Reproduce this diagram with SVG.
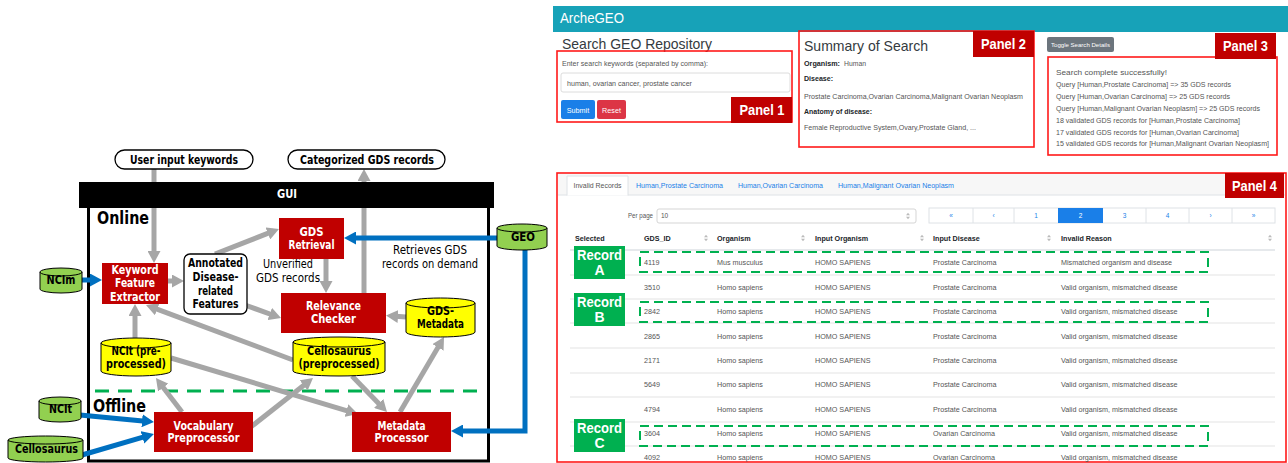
<svg xmlns="http://www.w3.org/2000/svg" xmlns:xlink="http://www.w3.org/1999/xlink" width="1288" height="463" viewBox="0 0 1288 463">
<style>
.lb{font-family:"DejaVu Sans","Liberation Sans",sans-serif;font-weight:bold;font-size:12px;text-anchor:middle}
.ln{font-family:"DejaVu Sans","Liberation Sans",sans-serif;font-size:12px;text-anchor:middle;fill:#000}
.w{fill:#fff}
.k{fill:#000}
.red{fill:#c00000}
.grn{fill:#92d050;stroke:#000;stroke-width:1}
.yel{fill:#ffff00;stroke:#000;stroke-width:1}
.arc{fill:none;stroke:#000;stroke-width:1}
.gray{stroke:#a6a6a6;stroke-width:5;fill:none;marker-end:url(#ag)}
.blue{stroke:#0070c0;stroke-width:5;fill:none;marker-end:url(#ab)}
.pill{fill:#fff;stroke:#000;stroke-width:1.3}
.s{font-family:"Liberation Sans",Arial,sans-serif;font-size:7.2px;fill:#555}
.h{font-weight:bold;fill:#212529}
.lk{fill:#1a7fe8}
.pl{font-family:"Liberation Sans",Arial,sans-serif;font-weight:bold;font-size:14px;fill:#fff;text-anchor:middle}
.pnl{fill:none;stroke:#ff1a1a;stroke-width:1.6}
.rl{stroke:#e3e3e3;stroke-width:1}
.gd{fill:none;stroke:#00b050;stroke-width:2;stroke-dasharray:9,5}
.rec{fill:#00b050}
.rt{font-family:"Liberation Sans",Arial,sans-serif;font-weight:bold;font-size:14px;fill:#fff;text-anchor:middle}
</style>
<defs>
<marker id="ag" markerUnits="userSpaceOnUse" markerWidth="13" markerHeight="13" refX="6" refY="6.5" orient="auto"><path d="M0,0 L12,6.5 L0,13 Z" fill="#a6a6a6"/></marker>
<marker id="ab" markerUnits="userSpaceOnUse" markerWidth="13" markerHeight="13" refX="6" refY="6.5" orient="auto"><path d="M0,0 L12,6.5 L0,13 Z" fill="#0070c0"/></marker>
<g id="sort"><path d="M-2,-0.7 L0,-3.3 L2,-0.7 Z M-2,0.7 L0,3.3 L2,0.7 Z" fill="#bbb"/></g>
</defs>

<!-- ===== Left: architecture diagram ===== -->
<g id="frame">
<rect x="88.5" y="200" width="400" height="261" fill="#fff" stroke="#000" stroke-width="3"/>
<line x1="95" y1="391" x2="486" y2="391" stroke="#00b050" stroke-width="3" stroke-dasharray="14,9"/>
<text x="97" y="224" font-family="DejaVu Sans,Liberation Sans,sans-serif" font-weight="bold" font-size="17" textLength="52" lengthAdjust="spacingAndGlyphs">Online</text>
<text x="93" y="412" font-family="DejaVu Sans,Liberation Sans,sans-serif" font-weight="bold" font-size="17" textLength="53" lengthAdjust="spacingAndGlyphs">Offline</text>
</g>

<g id="connectors">
<line class="gray" x1="154" y1="169" x2="154" y2="257"/>
<line class="gray" x1="364" y1="293" x2="364" y2="175"/>
<line class="gray" x1="168" y1="281" x2="178" y2="281"/>
<line class="gray" x1="215" y1="254" x2="273.4" y2="231.2"/>
<line class="gray" x1="245" y1="305" x2="275.4" y2="316"/>
<line class="gray" x1="326" y1="259" x2="326" y2="287"/>
<line class="gray" x1="406" y1="317" x2="392" y2="316"/>
<line class="gray" x1="135" y1="338" x2="135" y2="310"/>
<line class="gray" x1="293" y1="360" x2="151.6" y2="307.1"/>
<line class="gray" x1="171" y1="358" x2="352.2" y2="412.3"/>
<line class="gray" x1="182" y1="412" x2="159.6" y2="382.8"/>
<line class="gray" x1="247" y1="430" x2="308.3" y2="381.7"/>
<line class="gray" x1="352" y1="376" x2="382.8" y2="407.7"/>
<line class="gray" x1="400" y1="412" x2="441" y2="342.2"/>
<line class="blue" x1="82" y1="280" x2="96" y2="280"/>
<line class="blue" x1="497" y1="238" x2="350" y2="238"/>
<polyline class="blue" points="525,250 525,431 457,431"/>
<line class="blue" x1="80" y1="415" x2="148" y2="421.4"/>
<line class="blue" x1="82" y1="455" x2="148.2" y2="435.7"/>
<text class="ln" x="288" y="268.3" textLength="50" lengthAdjust="spacingAndGlyphs">Unverified</text>
<text class="ln" x="288" y="282.3" textLength="64" lengthAdjust="spacingAndGlyphs">GDS records</text>
<text class="ln" x="430" y="254.3" textLength="74" lengthAdjust="spacingAndGlyphs">Retrieves GDS</text>
<text class="ln" x="430" y="268.3" textLength="96" lengthAdjust="spacingAndGlyphs">records on demand</text>
</g>

<g id="gui">
<rect x="79" y="182" width="415" height="26" fill="#000"/>
<text class="lb w" x="287" y="198.3" textLength="20" lengthAdjust="spacingAndGlyphs">GUI</text>
</g>

<g id="user-input">
<rect class="pill" x="115" y="150" width="138" height="19" rx="9.5"/>
<text class="lb k" x="184" y="163.5" font-size="12.5" textLength="108" lengthAdjust="spacingAndGlyphs">User input keywords</text>
</g>
<g id="categorized">
<rect class="pill" x="288" y="150" width="157" height="19" rx="9.5"/>
<text class="lb k" x="367" y="163.5" font-size="12.5" textLength="134" lengthAdjust="spacingAndGlyphs">Categorized GDS records</text>
</g>

<g id="kfe">
<rect class="red" x="102" y="263" width="66" height="41"/>
<text class="lb w" x="135" y="274.3" textLength="47" lengthAdjust="spacingAndGlyphs">Keyword</text>
<text class="lb w" x="135" y="287.3" textLength="40" lengthAdjust="spacingAndGlyphs">Feature</text>
<text class="lb w" x="135" y="301.3" textLength="50" lengthAdjust="spacingAndGlyphs">Extractor</text>
</g>

<g id="annotated">
<rect x="184" y="254" width="63" height="60" rx="6" fill="#fff" stroke="#000" stroke-width="1.3"/>
<text class="lb k" x="215.5" y="267.3" textLength="55" lengthAdjust="spacingAndGlyphs">Annotated</text>
<text class="lb k" x="215.5" y="281.3" textLength="46" lengthAdjust="spacingAndGlyphs">Disease-</text>
<text class="lb k" x="215.5" y="295.3" textLength="35" lengthAdjust="spacingAndGlyphs">related</text>
<text class="lb k" x="215.5" y="308.3" textLength="46" lengthAdjust="spacingAndGlyphs">Features</text>
</g>

<g id="gds-retrieval">
<rect class="red" x="279" y="218" width="65" height="41"/>
<text class="lb w" x="311.5" y="236.3" textLength="24" lengthAdjust="spacingAndGlyphs">GDS</text>
<text class="lb w" x="311.5" y="249.3" textLength="46" lengthAdjust="spacingAndGlyphs">Retrieval</text>
</g>

<g id="relevance">
<rect class="red" x="281" y="293" width="105" height="40"/>
<text class="lb w" x="333.5" y="310.3" textLength="55" lengthAdjust="spacingAndGlyphs">Relevance</text>
<text class="lb w" x="333.5" y="323.3" textLength="45" lengthAdjust="spacingAndGlyphs">Checker</text>
</g>

<g id="gds-metadata">
<path class="yel" d="M406,303 A34.5,5 0 0 1 475,303 V332 A34.5,5 0 0 1 406,332 Z"/>
<path class="arc" d="M406,303 A34.5,5 0 0 0 475,303"/>
<text class="lb k" x="440.5" y="315.3" textLength="27" lengthAdjust="spacingAndGlyphs">GDS-</text>
<text class="lb k" x="440.5" y="328.3" textLength="47" lengthAdjust="spacingAndGlyphs">Metadata</text>
</g>

<g id="ncit-pre">
<path class="yel" d="M101,343 A35,5 0 0 1 171,343 V371 A35,5 0 0 1 101,371 Z"/>
<path class="arc" d="M101,343 A35,5 0 0 0 171,343"/>
<text class="lb k" x="136" y="355.3" textLength="49" lengthAdjust="spacingAndGlyphs">NCIt (pre-</text>
<text class="lb k" x="136" y="368.3" textLength="60" lengthAdjust="spacingAndGlyphs">processed)</text>
</g>

<g id="cello-pre">
<path class="yel" d="M293,342 A46,5 0 0 1 385,342 V371 A46,5 0 0 1 293,371 Z"/>
<path class="arc" d="M293,342 A46,5 0 0 0 385,342"/>
<text class="lb k" x="339" y="355.3" textLength="64" lengthAdjust="spacingAndGlyphs">Cellosaurus</text>
<text class="lb k" x="339" y="368.3" textLength="81" lengthAdjust="spacingAndGlyphs">(preprocessed)</text>
</g>

<g id="ncim">
<path class="grn" d="M40,272 A21,4 0 0 1 82,272 V289 A21,4 0 0 1 40,289 Z"/>
<path class="arc" d="M40,272 A21,4 0 0 0 82,272"/>
<text class="lb k" x="61" y="284.3" textLength="29" lengthAdjust="spacingAndGlyphs">NCIm</text>
</g>

<g id="geo">
<path class="grn" d="M497,228 A25,4 0 0 1 547,228 V246 A25,4 0 0 1 497,246 Z"/>
<path class="arc" d="M497,228 A25,4 0 0 0 547,228"/>
<text class="lb k" x="523" y="241.3" textLength="24" lengthAdjust="spacingAndGlyphs">GEO</text>
</g>

<g id="ncit">
<path class="grn" d="M39,401 A21,4 0 0 1 81,401 V418 A21,4 0 0 1 39,418 Z"/>
<path class="arc" d="M39,401 A21,4 0 0 0 81,401"/>
<text class="lb k" x="60.5" y="413.3" textLength="23" lengthAdjust="spacingAndGlyphs">NCIt</text>
</g>

<g id="cellosaurus">
<path class="grn" d="M8,440 A37.5,4 0 0 1 83,440 V458 A37.5,4 0 0 1 8,458 Z"/>
<path class="arc" d="M8,440 A37.5,4 0 0 0 83,440"/>
<text class="lb k" x="46.5" y="453.3" textLength="63" lengthAdjust="spacingAndGlyphs">Cellosaurus</text>
</g>

<g id="vocab">
<rect class="red" x="154" y="412" width="99" height="40"/>
<text class="lb w" x="203.5" y="430.3" textLength="60" lengthAdjust="spacingAndGlyphs">Vocabulary</text>
<text class="lb w" x="203.5" y="442.3" textLength="72" lengthAdjust="spacingAndGlyphs">Preprocessor</text>
</g>

<g id="metadata-proc">
<rect class="red" x="352" y="412" width="99" height="40"/>
<text class="lb w" x="401.5" y="430.3" textLength="48" lengthAdjust="spacingAndGlyphs">Metadata</text>
<text class="lb w" x="401.5" y="442.3" textLength="54" lengthAdjust="spacingAndGlyphs">Processor</text>
</g>

<!-- ===== Right: ArcheGEO screenshot ===== -->
<g id="header">
<rect x="553" y="6" width="735" height="26" fill="#17a2b8"/>
<text x="560" y="22.5" font-family="Liberation Sans,Arial,sans-serif" font-size="14.5" fill="#fff" textLength="64" lengthAdjust="spacingAndGlyphs">ArcheGEO</text>
</g>

<g id="panel1">
<text x="562" y="48.5" font-family="Liberation Sans,Arial,sans-serif" font-size="15" fill="#343a40" textLength="150" lengthAdjust="spacingAndGlyphs">Search GEO Repository</text>
<rect class="pnl" x="557" y="51" width="235" height="71"/>
<text class="s" x="562" y="65.6" textLength="146" lengthAdjust="spacingAndGlyphs">Enter search keywords (separated by comma):</text>
<rect x="561" y="73" width="229" height="19" rx="2" fill="#fff" stroke="#dcdcdc"/>
<text class="s" x="567" y="85.6" textLength="125" lengthAdjust="spacingAndGlyphs">human, ovarian cancer, prostate cancer</text>
<rect x="561" y="100" width="34" height="19" rx="2" fill="#1a7fe8"/>
<text class="s" x="578" y="112.6" fill="#fff" style="fill:#fff" text-anchor="middle">Submit</text>
<rect x="597" y="100" width="29" height="19" rx="2" fill="#dc3545"/>
<text class="s" x="611.5" y="112.6" style="fill:#fff" text-anchor="middle">Reset</text>
<rect class="red" x="731" y="97" width="61" height="26"/>
<text class="pl" x="762" y="115" textLength="45" lengthAdjust="spacingAndGlyphs">Panel 1</text>
</g>

<g id="panel2">
<rect class="pnl" x="799" y="31" width="235" height="116"/>
<text x="804" y="50.5" font-family="Liberation Sans,Arial,sans-serif" font-size="15" fill="#343a40" textLength="124" lengthAdjust="spacingAndGlyphs">Summary of Search</text>
<rect class="red" x="973" y="31" width="61" height="26"/>
<text class="pl" x="1003.5" y="49" textLength="45" lengthAdjust="spacingAndGlyphs">Panel 2</text>
<text class="s h" x="804" y="65.6" textLength="36" lengthAdjust="spacingAndGlyphs">Organism:</text>
<text class="s" x="844" y="65.6" textLength="22" lengthAdjust="spacingAndGlyphs">Human</text>
<text class="s h" x="804" y="80.6" textLength="29" lengthAdjust="spacingAndGlyphs">Disease:</text>
<text class="s" x="804" y="98.6" textLength="219" lengthAdjust="spacingAndGlyphs">Prostate Carcinoma,Ovarian Carcinoma,Malignant Ovarian Neoplasm</text>
<text class="s h" x="804" y="113.6" textLength="68" lengthAdjust="spacingAndGlyphs">Anatomy of disease:</text>
<text class="s" x="804" y="129.6" textLength="172" lengthAdjust="spacingAndGlyphs">Female Reproductive System,Ovary,Prostate Gland, ...</text>
</g>

<g id="panel3">
<rect x="1047" y="37" width="67" height="15" rx="2" fill="#6c757d"/>
<text class="s" x="1080.5" y="46.8" style="fill:#fff;font-size:6.2px" text-anchor="middle" textLength="59" lengthAdjust="spacingAndGlyphs">Toggle Search Details</text>
<rect class="pnl" x="1048" y="57" width="229" height="98"/>
<rect class="red" x="1215" y="33" width="61" height="26"/>
<text class="pl" x="1245.5" y="51" textLength="45" lengthAdjust="spacingAndGlyphs">Panel 3</text>
<text class="s" x="1056" y="74.6" textLength="111" lengthAdjust="spacingAndGlyphs">Search complete successfully!</text>
<text class="s" x="1056" y="86.6" textLength="175" lengthAdjust="spacingAndGlyphs">Query [Human,Prostate Carcinoma] =&gt; 35 GDS records</text>
<text class="s" x="1056" y="98.6" textLength="174" lengthAdjust="spacingAndGlyphs">Query [Human,Ovarian Carcinoma] =&gt; 25 GDS records</text>
<text class="s" x="1056" y="110.6" textLength="204" lengthAdjust="spacingAndGlyphs">Query [Human,Malignant Ovarian Neoplasm] =&gt; 25 GDS records</text>
<text class="s" x="1056" y="123" textLength="184" lengthAdjust="spacingAndGlyphs">18 validated GDS records for [Human,Prostate Carcinoma]</text>
<text class="s" x="1056" y="134.6" textLength="183" lengthAdjust="spacingAndGlyphs">17 validated GDS records for [Human,Ovarian Carcinoma]</text>
<text class="s" x="1056" y="146" textLength="213" lengthAdjust="spacingAndGlyphs">15 validated GDS records for [Human,Malignant Ovarian Neoplasm]</text>
</g>

<g id="panel4">
<rect x="558" y="174" width="727" height="21" fill="#f7f7f7"/>
<line x1="558" y1="195" x2="1285" y2="195" stroke="#dee2e6"/>
<path d="M567,195.5 V176 H628 V195.5" fill="#fff" stroke="#dee2e6"/>
<text class="s" x="597.5" y="187.6" text-anchor="middle" textLength="48" lengthAdjust="spacingAndGlyphs">Invalid Records</text>
<text class="s lk" x="636" y="187.6" textLength="87" lengthAdjust="spacingAndGlyphs">Human,Prostate Carcinoma</text>
<text class="s lk" x="738" y="187.6" textLength="85" lengthAdjust="spacingAndGlyphs">Human,Ovarian Carcinoma</text>
<text class="s lk" x="838" y="187.6" textLength="116" lengthAdjust="spacingAndGlyphs">Human,Malignant Ovarian Neoplasm</text>
<rect class="pnl" x="557" y="173" width="729" height="289"/>
<rect class="red" x="1225" y="173" width="59" height="25"/>
<text class="pl" x="1254.5" y="190.5" textLength="45" lengthAdjust="spacingAndGlyphs">Panel 4</text>

<text class="s" x="628" y="218.4" style="font-size:6.5px" textLength="25" lengthAdjust="spacingAndGlyphs">Per page</text>
<rect x="657" y="209" width="259" height="14" rx="2" fill="#fff" stroke="#d5d5d5"/>
<text class="s" x="661" y="218.4" style="font-size:6.5px">10</text>
<use xlink:href="#sort" href="#sort" x="908" y="216"/>

<rect x="929" y="208" width="346" height="15" fill="#fff" stroke="#dee2e6"/>
<rect x="1058" y="208" width="45" height="15" fill="#1a7fe8"/>
<g stroke="#dee2e6">
<line x1="973" y1="208" x2="973" y2="223"/><line x1="1014" y1="208" x2="1014" y2="223"/>
<line x1="1146" y1="208" x2="1146" y2="223"/><line x1="1189" y1="208" x2="1189" y2="223"/>
<line x1="1232" y1="208" x2="1232" y2="223"/>
</g>
<g class="s lk" text-anchor="middle" style="font-size:6.5px">
<text x="951" y="218.4">«</text><text x="993.5" y="218.4">‹</text><text x="1036" y="218.4">1</text>
<text x="1080.5" y="218.4" style="fill:#fff">2</text>
<text x="1124.5" y="218.4">3</text><text x="1167.5" y="218.4">4</text><text x="1210.5" y="218.4">›</text><text x="1253.5" y="218.4">»</text>
</g>

<g class="s h">
<text x="575" y="240.6">Selected</text>
<text x="644" y="240.6">GDS_ID</text>
<text x="717" y="240.6">Organism</text>
<text x="815" y="240.6">Input Organism</text>
<text x="933" y="240.6">Input Disease</text>
<text x="1061" y="240.6">Invalid Reason</text>
</g>
<use xlink:href="#sort" href="#sort" x="706" y="238"/>
<use xlink:href="#sort" href="#sort" x="803" y="238"/>
<use xlink:href="#sort" href="#sort" x="922" y="238"/>
<use xlink:href="#sort" href="#sort" x="1049" y="238"/>
<use xlink:href="#sort" href="#sort" x="1270" y="238"/>

<line x1="570" y1="250" x2="1275" y2="250" stroke="#dee2e6" stroke-width="1.5"/>
<line class="rl" x1="570" y1="275" x2="1275" y2="275"/>
<line class="rl" x1="570" y1="299" x2="1275" y2="299"/>
<line class="rl" x1="570" y1="323" x2="1275" y2="323"/>
<line class="rl" x1="570" y1="348" x2="1275" y2="348"/>
<line class="rl" x1="570" y1="373" x2="1275" y2="373"/>
<line class="rl" x1="570" y1="397" x2="1275" y2="397"/>
<line class="rl" x1="570" y1="422" x2="1275" y2="422"/>
<line class="rl" x1="570" y1="446" x2="1275" y2="446"/>

<g class="s">
<text x="644" y="264.6">4119</text><text x="717" y="264.6">Mus musculus</text><text x="815" y="264.6">HOMO SAPIENS</text><text x="933" y="264.6">Prostate Carcinoma</text><text x="1061" y="264.6">Mismatched organism and disease</text>
<text x="644" y="289.6">3510</text><text x="717" y="289.6">Homo sapiens</text><text x="815" y="289.6">HOMO SAPIENS</text><text x="933" y="289.6">Prostate Carcinoma</text><text x="1061" y="289.6">Valid organism, mismatched disease</text>
<text x="644" y="313.6">2842</text><text x="717" y="313.6">Homo sapiens</text><text x="815" y="313.6">HOMO SAPIENS</text><text x="933" y="313.6">Prostate Carcinoma</text><text x="1061" y="313.6">Valid organism, mismatched disease</text>
<text x="644" y="338.6">2865</text><text x="717" y="338.6">Homo sapiens</text><text x="815" y="338.6">HOMO SAPIENS</text><text x="933" y="338.6">Prostate Carcinoma</text><text x="1061" y="338.6">Valid organism, mismatched disease</text>
<text x="644" y="362.6">2171</text><text x="717" y="362.6">Homo sapiens</text><text x="815" y="362.6">HOMO SAPIENS</text><text x="933" y="362.6">Prostate Carcinoma</text><text x="1061" y="362.6">Valid organism, mismatched disease</text>
<text x="644" y="386.6">5649</text><text x="717" y="386.6">Homo sapiens</text><text x="815" y="386.6">HOMO SAPIENS</text><text x="933" y="386.6">Prostate Carcinoma</text><text x="1061" y="386.6">Valid organism, mismatched disease</text>
<text x="644" y="411.6">4794</text><text x="717" y="411.6">Homo sapiens</text><text x="815" y="411.6">HOMO SAPIENS</text><text x="933" y="411.6">Prostate Carcinoma</text><text x="1061" y="411.6">Valid organism, mismatched disease</text>
<text x="644" y="435.6">3604</text><text x="717" y="435.6">Homo sapiens</text><text x="815" y="435.6">HOMO SAPIENS</text><text x="933" y="435.6">Ovarian Carcinoma</text><text x="1061" y="435.6">Valid organism, mismatched disease</text>
<text x="644" y="460.2">4092</text><text x="717" y="460.2">Homo sapiens</text><text x="815" y="460.2">HOMO SAPIENS</text><text x="933" y="460.2">Ovarian Carcinoma</text><text x="1061" y="460.2">Valid organism, mismatched disease</text>
</g>

<rect class="gd" x="640" y="252" width="568" height="20"/>
<rect class="gd" x="640" y="302" width="568" height="20"/>
<rect class="gd" x="640" y="426" width="568" height="20"/>
</g>

<g id="record-a">
<rect class="rec" x="574" y="246" width="51" height="33"/>
<text class="rt" x="599.5" y="260" textLength="45" lengthAdjust="spacingAndGlyphs">Record</text>
<text class="rt" x="599.5" y="275">A</text>
</g>
<g id="record-b">
<rect class="rec" x="574" y="293" width="51" height="33"/>
<text class="rt" x="599.5" y="307" textLength="45" lengthAdjust="spacingAndGlyphs">Record</text>
<text class="rt" x="599.5" y="322">B</text>
</g>
<g id="record-c">
<rect class="rec" x="574" y="419" width="51" height="33"/>
<text class="rt" x="599.5" y="433" textLength="45" lengthAdjust="spacingAndGlyphs">Record</text>
<text class="rt" x="599.5" y="448">C</text>
</g>
</svg>
